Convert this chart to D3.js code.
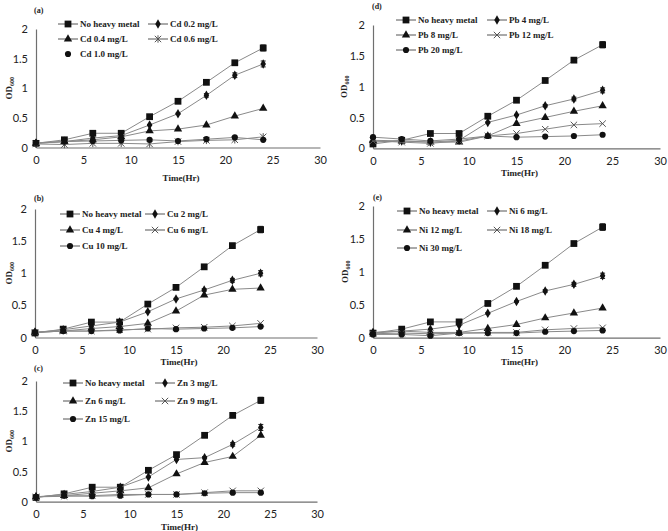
<!DOCTYPE html>
<html>
<head>
<meta charset="utf-8">
<script src="https://cdn.jsdelivr.net/npm/d3@7"></script>
<style>
  body { margin: 0; background: #fff; }
</style>
</head>
<body>
<div class="canvas"></div>
<script>
// sampling times (hours)
const hours = [0, 3, 6, 9, 12, 15, 18, 21, 24];
const xTicks = [0, 5, 10, 15, 20, 25, 30];
const yTicks = [0, 0.5, 1, 1.5, 2];

// control culture (same in every panel)
const noMetal = [0.07, 0.13, 0.24, 0.24, 0.52, 0.78, 1.10, 1.43, 1.68];
const noMetalErr = [0, 0, 0, 0, 0, 0.01, 0.02, 0.03, 0.05];

// (a) cadmium
const cd02 = [0.07, 0.10, 0.16, 0.20, 0.38, 0.57, 0.88, 1.22, 1.41];
const cd04 = [0.07, 0.10, 0.13, 0.18, 0.28, 0.31, 0.38, 0.53, 0.66];
const cd06 = [0.06, 0.05, 0.07, 0.07, 0.06, 0.10, 0.12, 0.13, 0.18];
const cd10 = [0.08, 0.10, 0.11, 0.12, 0.13, 0.11, 0.14, 0.17, 0.13];
const cd02Err = [0, 0, 0, 0, 0.01, 0.01, 0.03, 0.04, 0.05];

// (d) lead
const pb4 = [0.10, 0.12, 0.10, 0.13, 0.42, 0.54, 0.69, 0.80, 0.94];
const pb8 = [0.13, 0.12, 0.10, 0.10, 0.20, 0.40, 0.50, 0.60, 0.69];
const pb12 = [0.12, 0.10, 0.08, 0.12, 0.20, 0.24, 0.31, 0.38, 0.40];
const pb20 = [0.18, 0.15, 0.12, 0.15, 0.20, 0.18, 0.19, 0.20, 0.22];
const pb4Err = [0, 0, 0, 0, 0.01, 0.01, 0.02, 0.03, 0.04];

// (b) copper
const cu2 = [0.08, 0.12, 0.18, 0.24, 0.40, 0.60, 0.74, 0.89, 1.00];
const cu4 = [0.08, 0.10, 0.14, 0.17, 0.22, 0.41, 0.66, 0.75, 0.77];
const cu6 = [0.08, 0.10, 0.10, 0.12, 0.13, 0.15, 0.16, 0.18, 0.22];
const cu10 = [0.08, 0.10, 0.10, 0.11, 0.14, 0.13, 0.14, 0.15, 0.17];
const cu2Err = [0, 0, 0, 0, 0.01, 0.01, 0.02, 0.03, 0.04];

// (e) nickel
const ni6 = [0.07, 0.10, 0.13, 0.19, 0.37, 0.55, 0.71, 0.81, 0.94];
const ni12 = [0.08, 0.10, 0.08, 0.08, 0.14, 0.20, 0.30, 0.375, 0.45];
const ni18 = [0.06, 0.07, 0.06, 0.07, 0.08, 0.08, 0.12, 0.14, 0.15];
const ni30 = [0.05, 0.05, 0.03, 0.07, 0.07, 0.07, 0.09, 0.10, 0.11];
const ni6Err = [0, 0, 0, 0, 0.01, 0.01, 0.02, 0.03, 0.04];

// (c) zinc
const zn3 = [0.08, 0.12, 0.17, 0.24, 0.41, 0.70, 0.73, 0.95, 1.23];
const zn6 = [0.08, 0.10, 0.14, 0.18, 0.23, 0.46, 0.65, 0.75, 1.10];
const zn9 = [0.08, 0.09, 0.10, 0.12, 0.12, 0.12, 0.15, 0.18, 0.18];
const zn15 = [0.08, 0.10, 0.09, 0.10, 0.12, 0.12, 0.14, 0.15, 0.15];
const zn3Err = [0, 0, 0, 0, 0.01, 0.01, 0.02, 0.03, 0.05];

const serif = '"Liberation Serif", "Times New Roman", serif';
const sans = 'Lato, "Open Sans", sans-serif';

const svg = d3.select('.canvas').append('svg')
  .attr('width', 668)
  .attr('height', 531);

// layout of the five panels (pixel boxes)
const panels = [
  { letter: '(a)', x0: 36, x30: 320, yZero: 147.5, yTwo: 29, lx: 34, ly: 13,
    rows: [24, 39, 54], cols: [58, 148], xt: 181, yt: 12,
    series: [['No heavy metal', noMetal, noMetalErr, 'square'], ['Cd 0.2 mg/L', cd02, cd02Err, 'diamond'],
             ['Cd 0.4 mg/L', cd04, null, 'triangle'], ['Cd 0.6 mg/L', cd06, null, 'star'],
             ['Cd 1.0 mg/L', cd10, null, 'circle']], noLineLast: true },
  { letter: '(d)', x0: 373, x30: 660, yZero: 148.3, yTwo: 25, lx: 372, ly: 9,
    rows: [20, 35, 50], cols: [396, 487], xt: 176, yt: 347,
    series: [['No heavy metal', noMetal, noMetalErr, 'square'], ['Pb 4 mg/L', pb4, pb4Err, 'diamond'],
             ['Pb 8 mg/L', pb8, null, 'triangle'], ['Pb 12 mg/L', pb12, null, 'cross'],
             ['Pb 20 mg/L', pb20, null, 'circle']] },
  { letter: '(b)', x0: 35, x30: 317, yZero: 337.5, yTwo: 209, lx: 34, ly: 201,
    rows: [214, 230, 246], cols: [60, 145], xt: 365, yt: 12,
    series: [['No heavy metal', noMetal, noMetalErr, 'square'], ['Cu 2 mg/L', cu2, cu2Err, 'diamond'],
             ['Cu 4 mg/L', cu4, null, 'triangle'], ['Cu 6 mg/L', cu6, null, 'cross'],
             ['Cu 10 mg/L', cu10, null, 'circle']] },
  { letter: '(e)', x0: 373, x30: 660, yZero: 337.7, yTwo: 206, lx: 373, ly: 200,
    rows: [211, 230, 248], cols: [397, 487], xt: 365, yt: 348,
    series: [['No heavy metal', noMetal, noMetalErr, 'square'], ['Ni 6 mg/L', ni6, ni6Err, 'diamond'],
             ['Ni 12 mg/L', ni12, null, 'triangle'], ['Ni 18 mg/L', ni18, null, 'cross'],
             ['Ni 30 mg/L', ni30, null, 'circle']] },
  { letter: '(c)', x0: 36, x30: 317, yZero: 501.7, yTwo: 381, lx: 34, ly: 371,
    rows: [383, 401, 419], cols: [63, 155], xt: 530, yt: 12,
    series: [['No heavy metal', noMetal, noMetalErr, 'square'], ['Zn 3 mg/L', zn3, zn3Err, 'diamond'],
             ['Zn 6 mg/L', zn6, null, 'triangle'], ['Zn 9 mg/L', zn9, null, 'cross'],
             ['Zn 15 mg/L', zn15, null, 'circle']] }
];

// marker drawing
const drawMarker = (g, shape, cx, cy) => {
  if (shape === 'cross' || shape === 'star') {
    const s = 3.2;
    g.append('path')
      .attr('d', `M${cx - s},${cy - s}L${cx + s},${cy + s}M${cx - s},${cy + s}L${cx + s},${cy - s}`
        + (shape === 'star' ? `M${cx},${cy - s - 0.5}L${cx},${cy + s + 0.5}` : ''))
      .attr('stroke', '#555')
      .attr('stroke-width', 1)
      .attr('fill', 'none');
    return;
  }
  const types = { square: [d3.symbolSquare, 46], diamond: [d3.symbolDiamond, 26],
    triangle: [d3.symbolTriangle, 30], circle: [d3.symbolCircle, 30] };
  g.append('path')
    .attr('d', d3.symbol().type(types[shape][0]).size(types[shape][1])())
    .attr('transform', `translate(${cx},${cy})`)
    .attr('fill', '#111');
};

panels.forEach(p => {
  const x = d3.scaleLinear().domain([0, 30]).range([p.x0, p.x30]);
  const y = d3.scaleLinear().domain([0, 2]).range([p.yZero, p.yTwo]);
  const g = svg.append('g');

  // axes (no tick marks, like the source)
  const xAxis = d3.axisBottom(x).tickValues(xTicks).tickSize(0).tickPadding(9);
  const yAxis = d3.axisLeft(y).tickValues(yTicks).tickSize(0).tickPadding(8).tickFormat(d => String(d));

  const xg = g.append('g').attr('transform', `translate(0, ${p.yZero})`).call(xAxis);
  const yg = g.append('g').attr('transform', `translate(${p.x0}, 0)`).call(yAxis);
  [xg, yg].forEach(a => {
    a.select('.domain').attr('stroke', '#6f6f6f').attr('stroke-width', 1.2);
    a.selectAll('text').attr('font-family', sans).attr('font-size', 11).attr('fill', '#222');
  });

  // lines + error bars + markers
  const line = d3.line().x((d, i) => x(hours[i])).y(d => y(d));
  p.series.forEach(([name, vals, err, shape]) => {
    g.append('path')
      .datum(vals)
      .attr('d', line)
      .attr('fill', 'none')
      .attr('stroke', '#8a8a8a')
      .attr('stroke-width', 1);
    if (err) {
      vals.forEach((v, i) => {
        if (!err[i]) return;
        const cx = x(hours[i]);
        g.append('path')
          .attr('d', `M${cx},${y(v - err[i])}L${cx},${y(v + err[i])}M${cx - 2.5},${y(v + err[i])}L${cx + 2.5},${y(v + err[i])}M${cx - 2.5},${y(v - err[i])}L${cx + 2.5},${y(v - err[i])}`)
          .attr('stroke', '#222')
          .attr('stroke-width', 1);
      });
    }
    vals.forEach((v, i) => drawMarker(g, shape, x(hours[i]), y(v)));
  });

  // legend
  p.series.forEach(([name, vals, err, shape], k) => {
    const lx = p.cols[k % 2];
    const ly = p.rows[Math.floor(k / 2)];
    if (!(p.noLineLast && k === 4)) {
      g.append('line')
        .attr('x1', lx).attr('x2', lx + 20)
        .attr('y1', ly).attr('y2', ly)
        .attr('stroke', '#555')
        .attr('stroke-width', 1);
    }
    drawMarker(g, shape, lx + 10, ly);
    g.append('text')
      .attr('x', lx + 22)
      .attr('y', ly)
      .attr('dy', '0.35em')
      .attr('font-family', serif)
      .attr('font-weight', 'bold')
      .attr('font-size', 9)
      .attr('fill', '#222')
      .text(name);
  });

  // panel letter
  g.append('text')
    .attr('x', p.lx).attr('y', p.ly)
    .attr('font-family', serif).attr('font-weight', 'bold').attr('font-size', 8)
    .attr('fill', '#222')
    .text(p.letter);

  // axis titles
  g.append('text')
    .attr('x', (p.x0 + p.x30) / 2 + 3)
    .attr('y', p.xt)
    .attr('text-anchor', 'middle')
    .attr('font-family', serif).attr('font-weight', 'bold').attr('font-size', 9)
    .attr('fill', '#222')
    .text('Time(Hr)');

  const yTitle = g.append('text')
    .attr('transform', `translate(${p.yt}, ${(p.yZero + p.yTwo) / 2}) rotate(-90)`)
    .attr('text-anchor', 'middle')
    .attr('font-family', serif).attr('font-weight', 'bold').attr('font-size', 9)
    .attr('fill', '#222');
  yTitle.append('tspan').text('OD');
  yTitle.append('tspan').attr('font-size', 6).attr('dy', 2).text('600');
});
</script>
</body>
</html>
